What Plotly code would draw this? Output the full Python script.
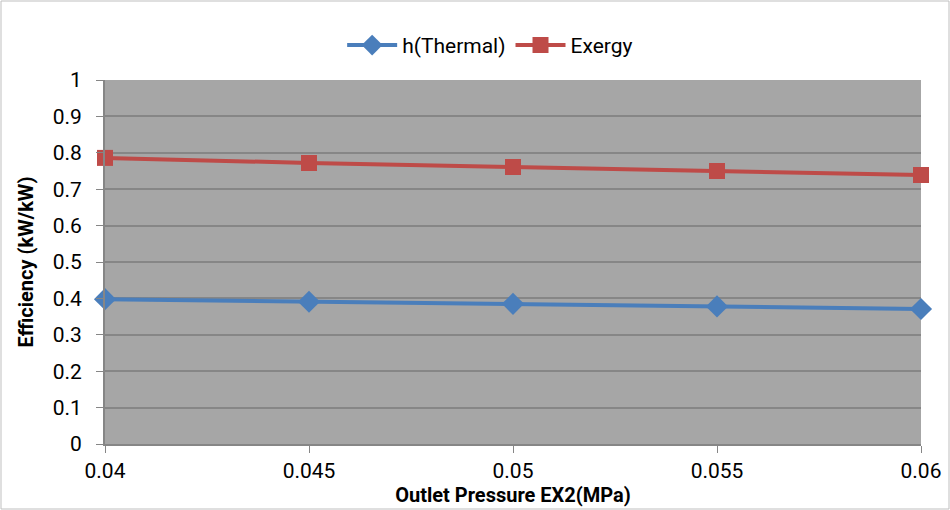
import plotly.graph_objects as go

pressure = [0.04, 0.045, 0.05, 0.055, 0.06]
thermal = [0.398, 0.391, 0.385, 0.378, 0.371]
exergy = [0.786, 0.772, 0.761, 0.750, 0.739]
x_ticks = [0.04, 0.045, 0.05, 0.055, 0.06]
x_tick_labels = ["0.04", "0.045", "0.05", "0.055", "0.06"]
y_ticks = [0, 0.1, 0.2, 0.3, 0.4, 0.5, 0.6, 0.7, 0.8, 0.9, 1]
y_tick_labels = ["0", "0.1", "0.2", "0.3", "0.4", "0.5", "0.6", "0.7", "0.8", "0.9", "1"]

FONT = "Liberation Sans Narrow, Arial Narrow, Roboto, sans-serif"

fig = go.Figure()
fig.add_trace(go.Scatter(
    x=pressure, y=thermal, name="h(Thermal)", mode="lines+markers",
    line=dict(color="#4A7EBB", width=4),
    marker=dict(symbol="diamond", size=17, color="#4A7EBB"),
    cliponaxis=False,
))
fig.add_trace(go.Scatter(
    x=pressure, y=exergy, name="Exergy", mode="lines+markers",
    line=dict(color="#BE4B48", width=4),
    marker=dict(symbol="square", size=16, color="#BE4B48"),
    cliponaxis=False,
))

fig.update_layout(
    width=950, height=510,
    margin=dict(l=105, r=29, t=80, b=66, autoexpand=False),
    paper_bgcolor="white",
    plot_bgcolor="#A6A6A6",
    font=dict(family=FONT, size=21, color="black"),
    showlegend=True,
    legend=dict(orientation="h", x=0.472, xanchor="center", xref="paper",
                y=1.095, yanchor="middle", font=dict(size=21),
                itemwidth=50, bgcolor="rgba(0,0,0,0)"),
    xaxis=dict(
        range=[0.04, 0.06], tickvals=x_ticks, ticktext=x_tick_labels,
        showgrid=False, zeroline=False, showline=True, linecolor="#868686", linewidth=2,
        ticks="outside", ticklen=7, tickcolor="#868686", tickwidth=1,
        automargin=False,
        title=dict(text="<b>Outlet Pressure EX2(MPa)</b>", standoff=0, font=dict(size=20)),
    ),
    yaxis=dict(
        range=[0, 1], tickvals=y_ticks, ticktext=y_tick_labels,
        showgrid=True, gridcolor="#868686", gridwidth=2, zeroline=False,
        showline=True, linecolor="#868686", linewidth=2,
        ticks="outside", ticklen=7, tickcolor="#868686", tickwidth=1,
        ticklabelstandoff=10, automargin=False,
        title=dict(text="<b>Efficiency (kW/kW)</b>", standoff=14, font=dict(size=20)),
    ),
    shapes=[dict(type="rect", xref="paper", yref="paper",
                 x0=-104/816, x1=1 + 28/816, y0=-65/364, y1=1 + 79/364,
                 line=dict(color="#BFBFBF", width=1), fillcolor="rgba(0,0,0,0)", layer="below")],
)

fig.write_html("out.html")
